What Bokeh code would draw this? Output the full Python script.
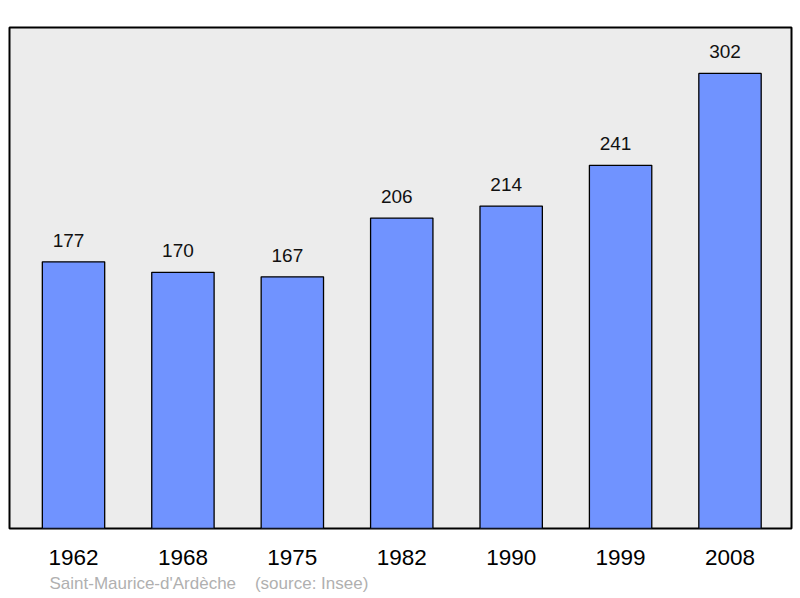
from bokeh.plotting import figure
from bokeh.models import ColumnDataSource, FixedTicker, Range1d, Title
from bokeh.core.properties import value
from bokeh.embed import file_html
from bokeh.resources import INLINE

years = ["1962", "1968", "1975", "1982", "1990", "1999", "2008"]
population = [177, 170, 167, 206, 214, 241, 302]
place = "Saint-Maurice-d'Ardèche"
source_note = "(source: Insee)"

xs = list(range(len(years)))
src = ColumnDataSource(dict(x=xs, top=population, label=[str(v) for v in population]))

p = figure(width=800, height=598, output_backend="svg", toolbar_location=None,
           x_range=Range1d(-0.585, 6.562), y_range=Range1d(0, 332.5),
           min_border_left=9, min_border_right=9, min_border_top=27, min_border_bottom=70)

p.background_fill_color = "#ececec"
p.border_fill_color = "white"
p.outline_line_color = "black"
p.outline_line_width = 2
p.grid.visible = False
p.yaxis.visible = False

p.vbar(x="x", top="top", width=0.57, bottom=0, source=src,
       fill_color="#7093ff", line_color="black", line_width=1.3)

p.text(x="x", y="top", text="label", source=src, text_align="center",
       text_baseline="middle", x_offset=-5, y_offset=-21.5,
       text_font=value("Liberation Sans"),
       text_font_size="19px", text_color="#111111")

ax = p.xaxis[0]
ax.ticker = FixedTicker(ticks=xs)
ax.major_label_overrides = {i: y for i, y in enumerate(years)}
ax.axis_line_color = None
ax.major_tick_line_color = None
ax.minor_tick_line_color = None
ax.major_label_text_font = "Liberation Sans"
ax.major_label_text_font_size = "22.5px"
ax.major_label_text_color = "black"
ax.major_label_standoff = 15

caption = Title(text=place + "\u00a0" * 4 + source_note, align="left", offset=40,
                standoff=8, text_font="Liberation Sans", text_font_size="17px",
                text_font_style="normal", text_color="#b0b0b0")
p.add_layout(caption, "below")

open("out.html", "w").write(file_html(p, INLINE))
